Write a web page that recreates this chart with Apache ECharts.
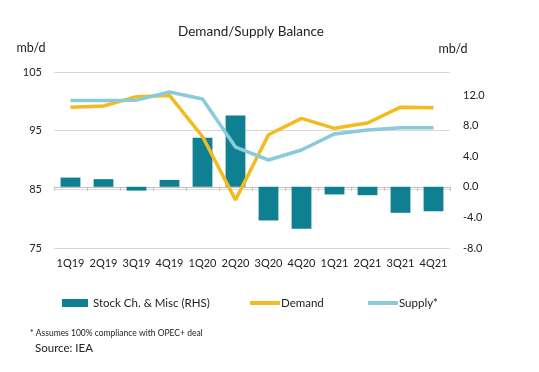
<!DOCTYPE html>
<html>
<head>
<meta charset="utf-8">
<script src="https://cdn.jsdelivr.net/npm/echarts@6/dist/echarts.min.js"></script>
<style>
html,body{margin:0;padding:0;background:#fff;}
#chart{width:539px;height:372px;}
</style>
</head>
<body>
<div id="chart"></div>
<script>
const categories = ['1Q19','2Q19','3Q19','4Q19','1Q20','2Q20','3Q20','4Q20','1Q21','2Q21','3Q21','4Q21'];
const stockChange = [1.2, 1.0, -0.5, 0.9, 6.4, 9.3, -4.4, -5.5, -1.0, -1.1, -3.4, -3.2];
const demand = [99.0, 99.2, 100.8, 101.0, 94.0, 83.2, 94.3, 97.1, 95.4, 96.3, 99.0, 98.9];
const supply = [100.15, 100.15, 100.2, 101.6, 100.4, 92.2, 90.0, 91.7, 94.45, 95.1, 95.5, 95.5];
const leftTicks = {min: 75, max: 105, interval: 10};
const rightTicks = {min: -8, max: 15, interval: 4};

const FONT = 'Lato, "Liberation Sans", Arial, sans-serif';
const TXT = '#222';
const chart = echarts.init(document.getElementById('chart'), null, {renderer: 'canvas'});
chart.setOption({
  animation: false,
  textStyle: {fontFamily: FONT},
  grid: {left: 54, right: 89, top: 72, bottom: 124},
  legend: [
    {data: [{name: 'Stock Ch. & Misc (RHS)', icon: 'rect'}], left: 57, top: 292, itemWidth: 26, itemHeight: 8,
     textStyle: {fontSize: 11.5, color: TXT, fontFamily: FONT}},
    {data: [{name: 'Demand', icon: 'roundRect'}], left: 245, top: 292, itemWidth: 30, itemHeight: 4,
     textStyle: {fontSize: 11.5, color: TXT, fontFamily: FONT, padding: [0, 0, 0, -4]}},
    {data: [{name: 'Supply*', icon: 'roundRect'}], left: 363, top: 292, itemWidth: 30, itemHeight: 4,
     textStyle: {fontSize: 11.5, color: TXT, fontFamily: FONT, padding: [0, 0, 0, -4]}}
  ],
  xAxis: {
    type: 'category', data: categories,
    axisLine: {lineStyle: {color: '#BFBFBF'}},
    axisTick: {show: true, length: 4, lineStyle: {color: '#BFBFBF'}},
    axisLabel: {color: TXT, fontSize: 11, margin: 10, fontFamily: FONT, interval: 0}
  },
  yAxis: [
    {type: 'value', min: leftTicks.min, max: leftTicks.max, interval: leftTicks.interval,
     axisLine: {show: false}, axisTick: {show: false},
     axisLabel: {color: TXT, fontSize: 11, margin: 12, fontFamily: FONT},
     splitLine: {lineStyle: {color: '#D9D9D9'}}},
    {type: 'value', min: rightTicks.min, max: rightTicks.max, interval: rightTicks.interval,
     axisLine: {show: false}, axisTick: {show: false},
     axisLabel: {color: TXT, fontSize: 11, margin: 13, fontFamily: FONT, showMaxLabel: false,
       formatter: v => v.toFixed(1)},
     splitLine: {show: false}}
  ],
  graphic: [
    {type: 'text', x: 251, y: 32, style: {text: 'Demand/Supply Balance', fill: TXT,
      font: '13.5px ' + FONT, textAlign: 'center', textVerticalAlign: 'middle'}},
    {type: 'text', x: 31, y: 48, style: {text: 'mb/d', fill: TXT, font: '12.5px ' + FONT,
      textAlign: 'center', textVerticalAlign: 'middle'}},
    {type: 'text', x: 453, y: 49, style: {text: 'mb/d', fill: TXT, font: '12.5px ' + FONT,
      textAlign: 'center', textVerticalAlign: 'middle'}},
    {type: 'text', x: 30, y: 333, style: {text: '* Assumes 100% compliance with OPEC+ deal', fill: TXT,
      font: '8.5px ' + FONT, textAlign: 'left', textVerticalAlign: 'middle'}},
    {type: 'text', x: 35, y: 348, style: {text: 'Source: IEA', fill: TXT, font: '11.5px ' + FONT,
      textAlign: 'left', textVerticalAlign: 'middle'}}
  ],
  series: [
    {name: 'Stock Ch. & Misc (RHS)', type: 'bar', yAxisIndex: 1, data: stockChange,
     barWidth: '60%', itemStyle: {color: '#0F7F92'}},
    {name: 'Demand', type: 'line', data: demand, symbol: 'none',
     lineStyle: {color: '#F2BC1F', width: 3.5}, itemStyle: {color: '#F2BC1F'}},
    {name: 'Supply*', type: 'line', data: supply, symbol: 'none',
     lineStyle: {color: '#8ACBDB', width: 3.5}, itemStyle: {color: '#8ACBDB'}}
  ]
});
</script>
</body>
</html>
